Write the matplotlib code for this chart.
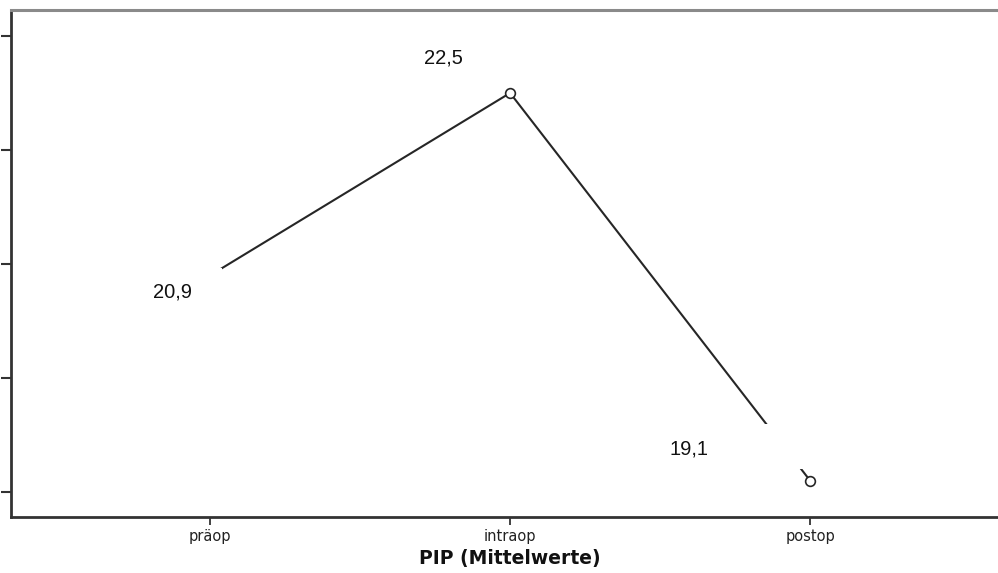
import matplotlib
matplotlib.use("Agg")
import matplotlib.pyplot as plt
from matplotlib.patches import Rectangle
from matplotlib.transforms import ScaledTranslation

# Mean PIP at the three time points
categories = ["präop", "intraop", "postop"]
values = [20.9, 22.5, 19.1]
value_labels = ["20,9", "22,5", "19,1"]
y_ticks = [19, 20, 21, 22, 23]
x_title = "PIP (Mittelwerte)"

fig = plt.figure(figsize=(9.98, 5.73), dpi=100)
ax = fig.add_axes([11 / 998, 56 / 573, 1 - 11 / 998 + 0.01, 507 / 573])

xs = list(range(len(categories)))
ax.plot(xs, values, color="#262626", linewidth=1.5, zorder=2)
ax.plot(xs, values, linestyle="none", marker="o", markersize=7,
        markerfacecolor="white", markeredgecolor="#262626",
        markeredgewidth=1.2, zorder=3)

ax.set_xlim(-0.664, 2.66)
ax.set_ylim(18.78, 23.228)
ax.set_xticks(xs)
ax.set_xticklabels(categories, fontsize=10.5, color="#222222",
                   family="DejaVu Sans")
ax.set_yticks(y_ticks)
ax.set_yticklabels([])
ax.tick_params(axis="y", direction="out", length=7, width=1.5, color="#333333")
ax.tick_params(axis="x", direction="out", length=6, width=1.3, color="#333333",
               pad=3)

for side in ("left", "bottom"):
    ax.spines[side].set_color("#333333")
    ax.spines[side].set_linewidth(2)
ax.spines["top"].set_color("#8a8a8a")
ax.spines["top"].set_linewidth(2.2)
ax.spines["right"].set_visible(False)

ax.set_xlabel(x_title, fontsize=13.5, fontweight="bold", family="DejaVu Sans",
              color="#111111", labelpad=3)

# Label boxes (pixel offsets from each point) and label text offsets
box_geom = [(-70, -40, 82, 47), None, (-150, 12, 146, 45)]
text_offsets = [(-38, -17), (-67, 35), (-121, 32)]

for i, (x, v, lab) in enumerate(zip(xs, values, value_labels)):
    anchor = ScaledTranslation(x, v, ax.transData)
    if box_geom[i] is not None:
        bx, by, bw, bh = box_geom[i]
        ax.add_patch(Rectangle((bx, by), bw, bh, transform=anchor,
                               facecolor="white", edgecolor="none",
                               zorder=4, clip_on=False))
    ax.annotate(lab, xy=(x, v), xytext=text_offsets[i],
                textcoords="offset pixels", ha="center", va="center",
                fontsize=14.5, family="Liberation Sans", color="#111111",
                zorder=5)

fig.savefig("out.png", dpi=100)
